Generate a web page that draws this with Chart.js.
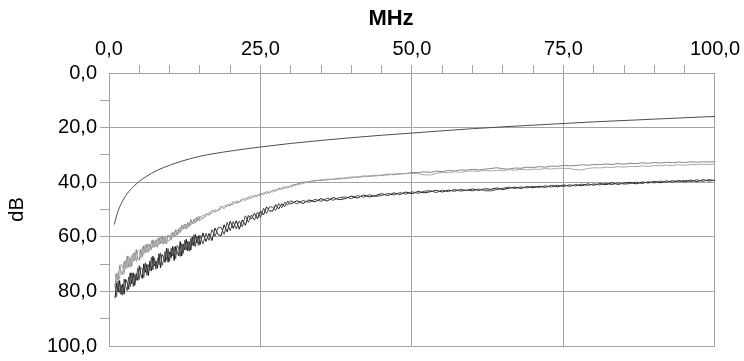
<!DOCTYPE html>
<html>
<head>
<meta charset="utf-8">
<script src="https://cdn.jsdelivr.net/npm/chart.js@4.4.0/dist/chart.umd.min.js"></script>
<style>
  html, body { margin: 0; padding: 0; background: #fff; }
  #chart { display: block; }
</style>
</head>
<body>
<canvas id="chart" width="744" height="361"></canvas>
<script>
// frequency points (MHz) shared by the measured traces
var freq = [
  1, 1.25, 1.5, 1.75, 2, 2.25, 2.5, 2.75, 3, 3.25,
  3.5, 3.75, 4, 4.25, 4.5, 4.75, 5, 5.25, 5.5, 5.75,
  6, 6.25, 6.5, 6.75, 7, 7.25, 7.5, 7.75, 8, 8.25,
  8.5, 8.75, 9, 9.25, 9.5, 9.75, 10, 10.25, 10.5, 10.75,
  11, 11.25, 11.5, 11.75, 12, 12.25, 12.5, 12.75, 13, 13.25,
  13.5, 13.75, 14, 14.25, 14.5, 14.75, 15,
  15.5, 16, 16.5, 17, 17.5, 18, 18.5, 19, 19.5, 20,
  20.5, 21, 21.5, 22, 22.5, 23, 23.5, 24, 24.5, 25,
  25.5, 26, 26.5, 27, 27.5, 28, 28.5, 29, 29.5, 30,
  31, 32, 33, 34, 35, 36, 37, 38, 39, 40,
  41, 42, 43, 44, 45, 46, 47, 48, 49, 50,
  51, 52, 53, 54, 55, 56, 57, 58, 59, 60,
  61, 62, 63, 64, 65, 66, 67, 68, 69, 70,
  71, 72, 73, 74, 75, 76, 77, 78, 79, 80,
  81, 82, 83, 84, 85, 86, 87, 88, 89, 90,
  91, 92, 93, 94, 95, 96, 97, 98, 99, 100
];

var lightA = [
  78.5, 73.5, 76.0, 70.5, 73.0, 74.0, 69.0, 71.7, 67.0, 71.1,
  67.7, 70.8, 66.0, 68.6, 64.7, 68.4, 68.5, 64.5, 67.3, 63.2,
  65.7, 62.6, 65.6, 62.7, 64.7, 61.1, 63.6, 61.1, 63.8, 60.3,
  62.4, 59.6, 62.7, 60.0, 62.6, 59.3, 59.8, 61.1, 58.3, 60.0,
  57.4, 59.4, 57.0, 58.4, 55.8, 57.2, 55.3, 57.1, 54.8, 56.2,
  53.6, 55.3, 53.6, 55.0, 52.8, 54.1, 52.5,
  53.4, 51.5, 52.1, 50.3, 50.9, 50.2, 48.8, 49.7, 48.1, 48.7,
  47.1, 47.7, 47.1, 46.0, 46.7, 45.4, 45.9, 44.8, 45.2, 44.0,
  44.5, 43.5, 44.0, 43.0, 43.3, 42.2, 42.6, 41.7, 42.1, 41.2,
  40.7, 40.0, 39.9, 39.3, 39.4, 38.9, 39.0, 38.5, 38.6, 38.1,
  38.2, 37.7, 37.9, 37.4, 37.6, 37.0, 37.3, 36.8, 36.9, 36.4,
  36.5, 36.2, 36.4, 36.0, 36.1, 35.7, 35.9, 35.5, 35.6, 35.3,
  35.5, 35.2, 35.0, 34.7, 35.1, 35.2, 34.8, 34.9, 34.5, 34.6,
  34.3, 34.5, 34.1, 34.2, 33.8, 34.0, 33.9, 33.6, 33.8, 33.5,
  33.6, 33.3, 33.5, 33.2, 33.4, 33.1, 33.2, 32.9, 33.1, 32.8,
  33.0, 32.7, 32.9, 32.6, 32.8, 32.5, 32.7, 32.5, 32.6, 32.5
];

var lightB = [
  73.5, 77.0, 73.0, 75.5, 70.0, 70.5, 73.5, 68.7, 71.5, 67.1,
  71.2, 66.8, 69.0, 65.6, 69.2, 64.9, 65.5, 68.0, 63.7, 66.5,
  63.0, 65.9, 62.6, 65.0, 61.4, 64.1, 61.8, 63.8, 60.5, 63.0,
  60.1, 62.6, 60.2, 62.5, 59.6, 61.5, 61.5, 58.7, 60.3, 58.0,
  59.8, 57.4, 59.0, 56.4, 57.8, 55.6, 57.1, 55.3, 56.8, 54.6,
  55.8, 54.5, 55.2, 53.2, 54.6, 52.5, 54.1,
  52.0, 52.6, 51.0, 51.5, 50.0, 50.5, 49.7, 48.5, 49.1, 47.8,
  48.2, 46.8, 47.3, 46.8, 45.7, 46.3, 45.0, 45.5, 44.5, 45.0,
  43.8, 44.3, 43.2, 43.6, 42.6, 42.9, 41.9, 42.3, 41.5, 41.7,
  40.9, 40.5, 39.7, 39.6, 39.1, 39.2, 38.8, 38.9, 38.4, 38.5,
  38.0, 38.1, 37.6, 37.8, 37.3, 37.4, 36.9, 37.1, 36.7, 36.8,
  36.9, 37.3, 37.4, 36.8, 36.4, 36.5, 36.2, 36.4, 36.0, 35.9,
  36.0, 35.7, 35.9, 35.6, 35.8, 35.4, 35.6, 35.3, 35.5, 35.2,
  35.3, 35.0, 35.2, 34.9, 34.9, 35.0, 35.4, 35.5, 35.0, 34.7,
  34.8, 34.5, 34.6, 34.3, 34.5, 34.2, 34.3, 34.0, 34.2, 33.9,
  34.0, 33.7, 33.9, 33.6, 33.8, 33.5, 33.6, 33.4, 33.5, 33.4
];

var darkA = [
  82.5, 76.9, 80.2, 76.0, 81.1, 77.4, 81.0, 75.6, 76.7, 79.2,
  73.2, 77.2, 73.2, 77.8, 73.4, 76.0, 70.6, 73.7, 75.3, 69.9,
  73.0, 70.1, 74.2, 68.9, 72.5, 67.1, 70.7, 68.9, 71.5, 66.2,
  71.4, 66.5, 67.2, 69.4, 64.1, 69.3, 65.5, 67.7, 63.5, 68.7,
  63.5, 65.7, 67.0, 61.7, 67.0, 62.6, 64.8, 60.9, 65.1, 61.8,
  64.9, 60.1, 63.3, 59.1, 62.3, 59.6, 62.9,
  58.6, 61.7, 58.8, 61.4, 56.8, 59.2, 59.6, 55.6, 58.2, 54.3,
  56.9, 54.1, 57.2, 53.8, 55.8, 52.2, 53.5, 51.4, 53.4, 50.5,
  52.0, 49.0, 50.5, 50.6, 48.2, 49.8, 47.9, 48.9, 47.0, 48.0,
  46.8, 47.8, 46.5, 47.2, 46.0, 46.9, 45.6, 46.4, 46.0, 45.1,
  45.8, 44.7, 45.4, 44.9, 44.2, 44.9, 43.9, 44.5, 43.6, 44.2,
  43.4, 43.9, 43.5, 43.0, 43.6, 42.9, 43.3, 42.7, 43.0, 42.5,
  43.0, 42.4, 42.6, 42.1, 42.7, 42.2, 41.8, 42.3, 41.6, 42.0,
  41.5, 41.9, 41.2, 41.7, 41.0, 41.5, 40.9, 41.3, 40.6, 41.1,
  40.5, 40.9, 40.2, 40.8, 40.3, 40.1, 40.6, 39.9, 40.3, 39.7,
  40.2, 39.5, 40.0, 39.4, 39.9, 39.2, 39.8, 39.1, 39.6, 39.2
];

var darkB = [
  77.5, 81.9, 76.2, 80.5, 77.6, 81.4, 75.5, 78.1, 79.7, 74.7,
  78.2, 73.2, 78.2, 73.8, 75.9, 71.5, 75.6, 71.2, 71.8, 74.9,
  69.5, 74.1, 70.2, 72.4, 67.5, 72.1, 67.7, 71.9, 68.0, 70.2,
  65.9, 70.5, 68.7, 65.4, 68.6, 64.3, 69.0, 64.2, 67.0, 63.7,
  68.0, 63.2, 64.0, 67.2, 62.5, 66.1, 61.3, 64.9, 61.6, 65.3,
  60.4, 63.1, 59.3, 63.6, 59.8, 63.1, 59.4,
  62.6, 58.7, 61.3, 57.4, 59.8, 56.7, 56.6, 59.1, 54.7, 57.8,
  54.4, 57.1, 54.2, 56.3, 52.3, 54.7, 52.0, 53.9, 50.9, 53.0,
  49.5, 51.5, 49.0, 49.1, 50.4, 47.8, 49.4, 47.3, 48.4, 46.8,
  47.9, 46.7, 47.4, 46.3, 47.0, 45.9, 46.6, 45.6, 45.4, 46.0,
  44.9, 45.5, 44.6, 45.2, 44.9, 44.1, 44.7, 43.8, 44.4, 43.5,
  44.1, 43.3, 43.1, 43.8, 42.9, 43.5, 42.6, 43.3, 42.9, 43.2,
  42.5, 43.1, 43.2, 42.7, 42.2, 41.8, 42.3, 41.7, 42.1, 41.5,
  41.9, 41.3, 41.8, 41.1, 41.6, 40.9, 41.4, 40.7, 41.2, 40.6,
  41.0, 40.4, 40.9, 40.2, 40.7, 40.5, 40.0, 40.5, 39.8, 40.3,
  39.6, 40.1, 39.4, 39.9, 39.3, 39.8, 39.1, 39.7, 39.0, 39.5
];

// smooth limit curve
var limitFreq = [0.9, 1, 1.5, 2, 3, 4, 5, 6, 8, 10, 12, 15, 20, 25, 30, 35, 40, 45, 50, 60, 70, 80, 90, 100];
var limitLoss = [55.5, 54.4, 50.6, 47.9, 44.2, 41.7, 39.7, 38.1, 35.6, 33.8, 32.3, 30.5, 28.6, 27.1, 25.8, 24.7, 23.7, 22.8, 22.0, 20.4, 19.1, 17.9, 16.9, 15.9];

var xTitle = 'MHz';
var yTitle = 'dB';

var gridGray = '#a3a3a3';
var fontFamily = '"Liberation Sans", Arial, sans-serif';

function toPoints(xs, ys) {
    var pts = [];
    for (var i = 0; i < xs.length; i++) {
        pts.push({ x: xs[i], y: ys[i] });
    }
    return pts;
}

function fmt(v) {
    return v.toFixed(1).replace('.', ',');
}

function trace(values, color) {
    return {
        data: toPoints(freq, values),
        borderColor: color,
        borderWidth: 1,
        pointRadius: 0,
        tension: 0,
        fill: false
    };
}

// top title drawn a little left of the plot centre, like the original
var mhzTitle = {
    id: 'mhzTitle',
    afterDraw: function (chart) {
        var c = chart.ctx;
        c.save();
        c.font = 'bold 22px ' + fontFamily;
        c.fillStyle = '#000';
        c.textAlign = 'center';
        c.textBaseline = 'middle';
        c.fillText(xTitle, 391, 19);
        c.restore();
    }
};

var ctx = document.getElementById('chart').getContext('2d');
var chart = new Chart(ctx, {
    type: 'line',
    data: {
        datasets: [
            trace(lightB, '#a8a8a8'),
            trace(lightA, '#858585'),
            trace(darkB, '#4a4a4a'),
            trace(darkA, '#1a1a1a'),
            {
                data: toPoints(limitFreq, limitLoss),
                borderColor: '#4d4d4d',
                borderWidth: 1,
                pointRadius: 0,
                cubicInterpolationMode: 'monotone',
                fill: false
            }
        ]
    },
    options: {
        responsive: false,
        animation: false,
        layout: { padding: { top: 0, right: 29, bottom: 13, left: 0 } },
        plugins: {
            legend: { display: false },
            tooltip: { enabled: false }
        },
        scales: {
            x: {
                type: 'linear',
                position: 'top',
                min: 0,
                max: 100,
                afterFit: function (scale) { scale.height = 73; },
                ticks: {
                    stepSize: 5,
                    autoSkip: false,
                    maxRotation: 0,
                    padding: 4,
                    color: '#000',
                    font: { family: fontFamily, size: 20 },
                    callback: function (v) { return v % 25 === 0 ? fmt(v) : ''; }
                },
                grid: {
                    tickLength: 8,
                    color: function (c) {
                        var v = c.tick ? c.tick.value : 0;
                        return v % 25 === 0 ? gridGray : 'rgba(0,0,0,0)';
                    },
                    tickColor: function (c) {
                        var v = c.tick ? c.tick.value : 0;
                        return (v === 0 || v === 100) ? 'rgba(0,0,0,0)' : gridGray;
                    }
                },
                border: { color: gridGray }
            },
            y: {
                reverse: true,
                min: 0,
                max: 100,
                afterFit: function (scale) { scale.width = 109; },
                ticks: {
                    stepSize: 10,
                    autoSkip: false,
                    padding: 3,
                    color: '#000',
                    font: { family: fontFamily, size: 20 },
                    callback: function (v) { return v % 20 === 0 ? fmt(v) : ''; }
                },
                grid: {
                    tickLength: 9,
                    color: function (c) {
                        var v = c.tick ? c.tick.value : 0;
                        return v % 20 === 0 ? gridGray : 'rgba(0,0,0,0)';
                    },
                    tickColor: function (c) {
                        var v = c.tick ? c.tick.value : 0;
                        return (v === 0 || v === 100) ? 'rgba(0,0,0,0)' : gridGray;
                    }
                },
                border: { color: gridGray },
                title: {
                    display: true,
                    text: yTitle,
                    color: '#000',
                    font: { family: fontFamily, size: 20 },
                    padding: { top: 5, bottom: 0 }
                }
            }
        }
    },
    plugins: [mhzTitle]
});
</script>
</body>
</html>
